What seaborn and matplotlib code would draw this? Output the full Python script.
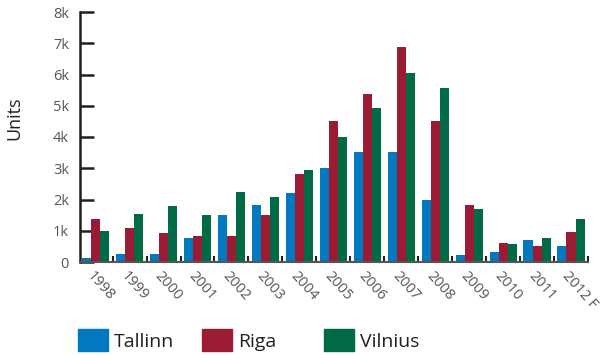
import pandas as pd
import matplotlib
matplotlib.use("Agg")
import matplotlib.pyplot as plt
import matplotlib.patches as mpatches
import seaborn as sns

# Data (units)
years = ["1998", "1999", "2000", "2001", "2002", "2003", "2004", "2005",
         "2006", "2007", "2008", "2009", "2010", "2011", "2012 F"]
tallinn = [130, 250, 250, 760, 1490, 1810, 2200, 3000, 3510, 3510, 2000, 210, 310, 690, 500]
riga = [1370, 1080, 920, 820, 820, 1490, 2810, 4500, 5370, 6870, 4500, 1810, 600, 500, 950]
vilnius = [980, 1530, 1780, 1490, 2230, 2070, 2930, 3990, 4920, 6040, 5560, 1690, 570, 760, 1370]
cities = ["Tallinn", "Riga", "Vilnius"]
colors = ["#0079c1", "#9b1b34", "#006a44"]

sns.set_theme(style="white")
plt.rcParams["font.family"] = ["Open Sans", "DejaVu Sans"]

df = pd.DataFrame({
    "year": years * 3,
    "units": tallinn + riga + vilnius,
    "city": [c for c in cities for _ in years],
})

fig = plt.figure(figsize=(6, 3.55), dpi=100)
ax = fig.add_axes([80 / 600, 1 - 262 / 355, 508 / 600, 250 / 355])

sns.barplot(data=df, x="year", y="units", hue="city", order=years, hue_order=cities,
            palette=colors, saturation=1, width=0.8, gap=0, linewidth=0,
            legend=False, ax=ax)

ax.set_xlim(-0.46, 14.5)
ax.set_ylim(0, 8000)
ax.set_yticks(range(0, 8001, 1000))
ax.set_yticklabels(["0"] + [f"{i}k" for i in range(1, 9)])
ax.set_xlabel("")
ax.set_ylabel("Units", fontsize=13, color="#231f20")
ax.yaxis.set_label_coords(-0.112, 0.576)

for side in ["top", "right"]:
    ax.spines[side].set_visible(False)
ax.spines["left"].set_linewidth(1.8)
ax.spines["left"].set_color("#231f20")
ax.spines["bottom"].set_linewidth(1.5)
ax.spines["bottom"].set_color("#555555")

ax.tick_params(axis="y", direction="in", length=10, width=1.8, color="#231f20",
               pad=8, labelsize=10.5, labelcolor="#555555", left=True)

# rotated labels start near each group centre
label_pos = [i - 0.02 for i in range(len(years))]
ax.set_xticks(label_pos)
ax.set_xticklabels(years)
ax.tick_params(axis="x", which="major", length=0, pad=5, labelsize=10.5, labelcolor="#555555")
ax.set_xticks([i + 0.5 for i in range(len(years))], minor=True)
ax.tick_params(axis="x", which="minor", direction="in", length=4, width=1.5,
               color="#231f20", bottom=True)

for lbl in ax.get_xticklabels():
    lbl.set_rotation(-48)
    lbl.set_ha("left")
    lbl.set_va("top")
    lbl.set_rotation_mode("anchor")

# legend, one entry per city, spaced as in the original
legend_x = [78, 202, 324]
for city, col, x in zip(cities, colors, legend_x):
    leg = fig.legend(handles=[mpatches.Patch(color=col, label=city)],
                     loc="center left", bbox_to_anchor=(x / 600, 1 - 340 / 355),
                     frameon=False, fontsize=14, handlelength=1.55, handleheight=1.3,
                     handletextpad=0.3, borderpad=0, borderaxespad=0)
    for t in leg.get_texts():
        t.set_color("#231f20")

fig.savefig("out.png", dpi=100)
